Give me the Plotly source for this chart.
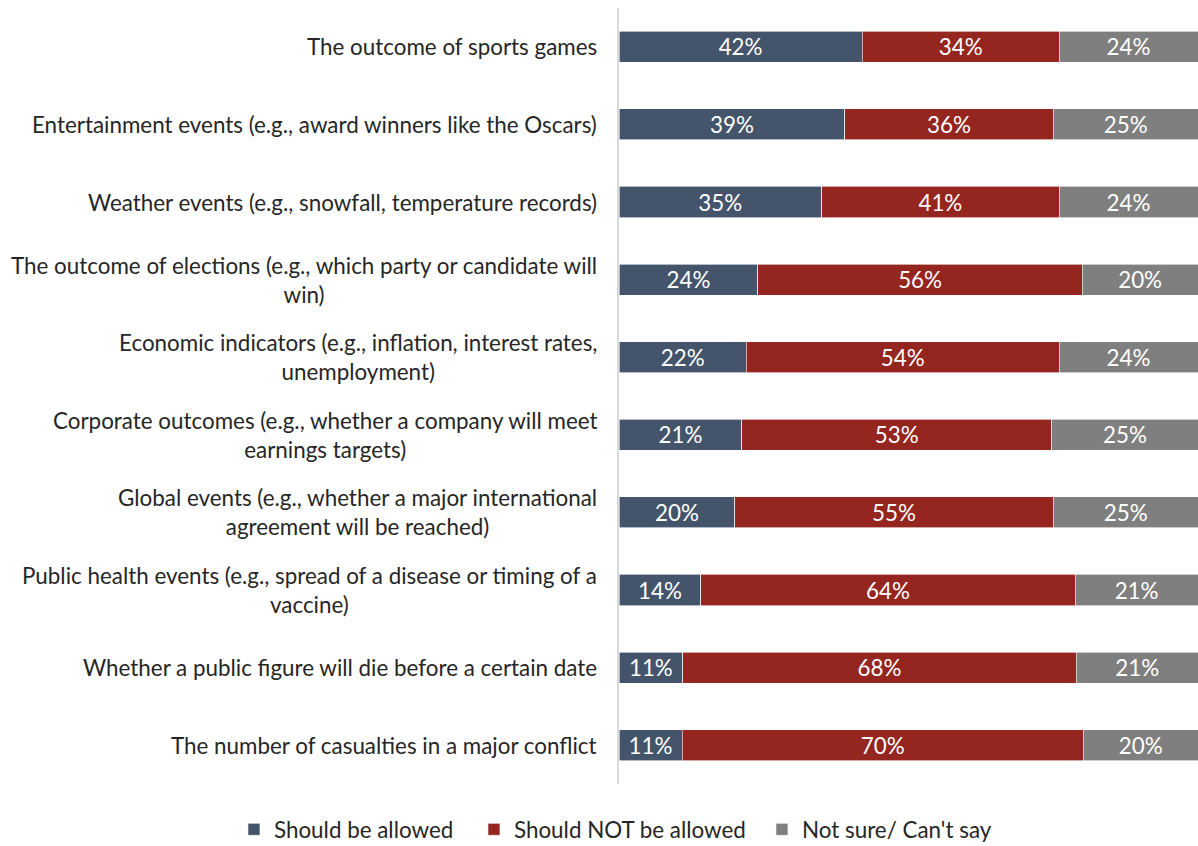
import plotly.graph_objects as go

# Survey items, top to bottom (line breaks where the labels wrap)
categories = [
    "The outcome of sports games",
    "Entertainment events (e.g., award winners like the Oscars)",
    "Weather events (e.g., snowfall, temperature records)",
    "The outcome of elections (e.g., which party or candidate will<br>win)",
    "Economic indicators (e.g., inflation, interest rates,<br>unemployment)",
    "Corporate outcomes (e.g., whether a company will meet<br>earnings targets)",
    "Global events (e.g., whether a major international<br>agreement will be reached)",
    "Public health events (e.g., spread of a disease or timing of a<br>vaccine)",
    "Whether a public figure will die before a certain date",
    "The number of casualties in a major conflict",
]

allowed = [42, 39, 35, 24, 22, 21, 20, 14, 11, 11]
not_allowed = [34, 36, 41, 56, 54, 53, 55, 64, 68, 70]
not_sure = [24, 25, 24, 20, 24, 25, 25, 21, 21, 20]

# name, values, colour, legend entry width (px)
series = [
    ("Should be allowed", allowed, "#44546A", 195),
    ("Should NOT be allowed", not_allowed, "#95261F", 243),
    ("Not sure/ Can't say", not_sure, "#7F7F7F", None),
]

FONT = "Lato"
TEXT_COLOR = "#262626"
SIZE = 22.4

fig = go.Figure()
for name, vals, color, lw in series:
    fig.add_trace(go.Bar(
        name=name,
        y=categories,
        x=vals,
        orientation="h",
        marker=dict(color=color, line=dict(color="white", width=0.6)),
        text=vals,
        texttemplate="%{text}%",
        textposition="inside",
        insidetextanchor="middle",
        textangle=0,
        textfont=dict(family=FONT, size=SIZE, color="white"),
        constraintext="none",
        legendwidth=lw,
    ))

# Category labels: right-aligned block, each line centred within it
for cat in categories:
    fig.add_annotation(
        x=0, xref="paper", y=cat, yref="y",
        text=cat, showarrow=False,
        xanchor="right", yanchor="middle", align="center",
        xshift=-20,
        font=dict(family=FONT, size=SIZE, color=TEXT_COLOR),
    )

fig.update_layout(
    width=1198, height=846,
    margin=dict(l=619, r=0, t=8, b=62, autoexpand=False),
    barmode="stack",
    barnorm="percent",
    bargap=0.6,
    plot_bgcolor="white",
    paper_bgcolor="white",
    font=dict(family=FONT, size=SIZE, color=TEXT_COLOR),
    showlegend=True,
    legend=dict(
        orientation="h",
        x=-0.665, xanchor="left",
        y=-0.059, yanchor="middle",
        font=dict(family=FONT, size=SIZE, color=TEXT_COLOR),
        traceorder="normal",
    ),
    xaxis=dict(range=[0, 100], visible=False, fixedrange=True),
    yaxis=dict(
        categoryorder="array", categoryarray=categories,
        autorange="reversed",
        showticklabels=False, ticks="",
        showline=True, linecolor="#D9D9D9", linewidth=1.5,
        showgrid=False, zeroline=False,
    ),
)

fig.write_html("out.html")
